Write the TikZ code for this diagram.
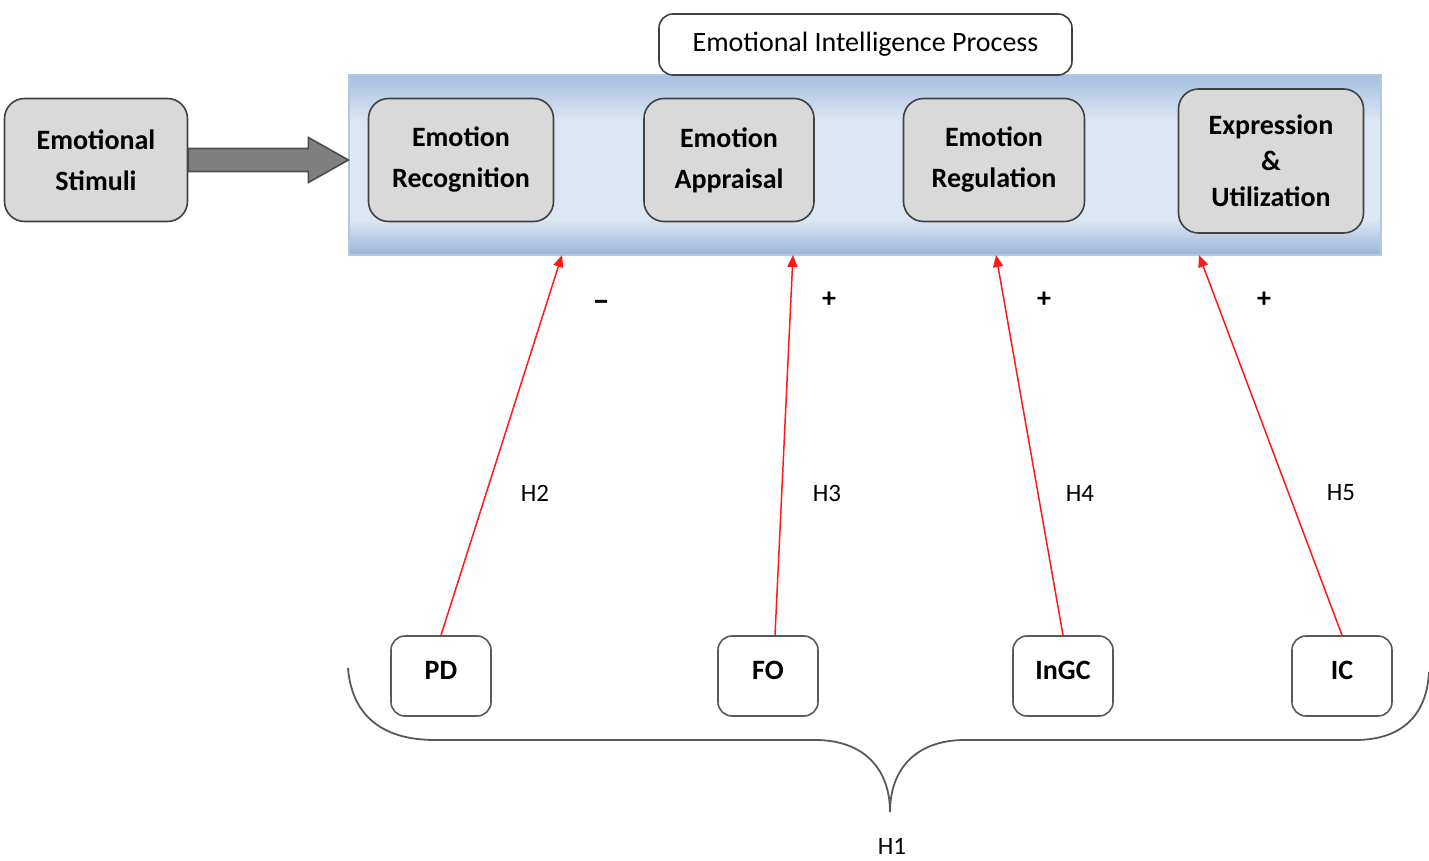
\documentclass[tikz,border=0pt]{standalone}
\usepackage{fontspec}
\setmainfont{Carlito}
\usetikzlibrary{arrows.meta, positioning, calc}

\definecolor{boxgray}{HTML}{D9D9D9}
\definecolor{arrgray}{HTML}{7F7F7F}
\definecolor{panelTop}{HTML}{A6BFE1}
\definecolor{panelMid}{HTML}{DDE7F3}
\definecolor{panelBot}{HTML}{99B4DA}
\definecolor{panelEdge}{HTML}{B4C8E2}
\pgfdeclareverticalshading{eipanel}{100bp}{color(0bp)=(panelBot); color(25bp)=(panelBot);
  color(35bp)=(panelMid); color(62bp)=(panelMid); color(75bp)=(panelTop); color(100bp)=(panelTop)}

\begin{document}
\begin{tikzpicture}[
  x=0.5pt, y=-0.5pt, >=Stealth,
  % --- shared block base ---
  blkbase/.style={
    rounded corners=10pt, line width=0.8pt, inner sep=2pt, align=center
  },
  % --- block types ---
  stage/.style={blkbase, draw=black!75, fill=boxgray, minimum height=61.5pt,
    font=\fontsize{14}{20.5}\selectfont\bfseries},
  fac/.style={blkbase, rounded corners=7pt, draw=black!65, fill=white,
    minimum width=50pt, minimum height=40pt, text depth=6pt,
    font=\fontsize{14}{16}\selectfont\bfseries},
  ttl/.style={blkbase, rounded corners=7pt, draw=black!75, fill=white,
    minimum width=206.5pt, minimum height=30.5pt, font=\fontsize{14}{16}\selectfont},
  panel/.style={draw=panelEdge, line width=0.6pt, inner sep=0pt, shading=eipanel,
    minimum width=516pt, minimum height=90pt},
  % --- labels ---
  hyp/.style={font=\fontsize{12.5}{14}\selectfont, inner sep=1pt},
  sgn/.style={font=\fontsize{14}{16}\selectfont\bfseries},
  % --- arrows ---
  rarr/.style={-{Triangle[length=6pt, width=5pt]}, line width=0.75pt, draw=red!90!white},
  bigarr/.style={draw=black!70, line width=0.8pt, fill=arrgray, line join=miter},
  brc/.style={draw=black!65, line width=0.9pt},
]
\useasboundingbox (0,0) rectangle (1429,861);

% ===================== EI PROCESS =====================

\node[panel] (proc) at (865,165) {};
\node[ttl] (title) at (865.5,44.5) {Emotional Intelligence Process};

\node[stage, minimum width=92.5pt] (recog) at (461,160) {Emotion\\Recognition};
\node[stage, minimum width=85pt] (apprs) at (729,160) {Emotion\\Appraisal};
\node[stage, minimum width=90.5pt] (regul) at (994,160) {Emotion\\Regulation};
\node[stage, minimum width=92.5pt, minimum height=72pt,
  font=\fontsize{14}{18}\selectfont\bfseries] (expr) at (1271,161) {Expression\\\&\\Utilization};

% ===================== STIMULI =====================

\node[stage, minimum width=91.5pt] (stim) at (96,160) {Emotional\\Stimuli};
\coordinate (tip) at (proc.west |- stim.east);

\draw[bigarr] ([yshift=5.75pt]stim.east) -- ([xshift=-20pt, yshift=5.75pt]tip)
  -- ([xshift=-20pt, yshift=11.25pt]tip) -- (tip)
  -- ([xshift=-20pt, yshift=-11.25pt]tip) -- ([xshift=-20pt, yshift=-5.75pt]tip)
  -- ([yshift=-5.75pt]stim.east) -- cycle;

% ===================== FACTORS =====================

\node[fac] (pd) at (441,676) {PD};
\node[fac] (fo) at (768,676) {FO};
\node[fac] (ingc) at (1063,676) {InGC};
\node[fac] (ic) at (1342,676) {IC};

\coordinate (e2) at (562,255);
\coordinate (e3) at (793,255);
\coordinate (e4) at (996,255);
\coordinate (e5) at (1199,255);

\draw[rarr] (pd.north) -- (e2);
\draw[rarr] ([xshift=3.5pt]fo.north) -- (e3);
\draw[rarr] (ingc.north) -- (e4);
\draw[rarr] (ic.north) -- (e5);

% signs and hypotheses
\node[sgn, font=\fontsize{17}{18}\selectfont\bfseries] (s2) at (601,306) {--};
\node[sgn] (s3) at (829,300) {+};
\node[sgn] (s4) at (1044,300) {+};
\node[sgn] (s5) at (1264,300) {+};

\node[hyp] (h2) at (535,493) {H2};
\node[hyp] (h3) at (827,493) {H3};
\node[hyp] (h4) at (1080,493) {H4};
\node[hyp] (h5) at (1341,493) {H5};

% ===================== BRACE =====================

\draw[brc] (348,668) .. controls (352,718) and (385,740) .. (435,740) -- (815,740)
  .. controls (865,740) and (890,770) .. (890,812)
  .. controls (890,770) and (915,740) .. (965,740) -- (1355,740)
  .. controls (1405,740) and (1427,712) .. (1429,672);
\node[hyp] (h1) at (892,846) {H1};

\end{tikzpicture}
\end{document}
